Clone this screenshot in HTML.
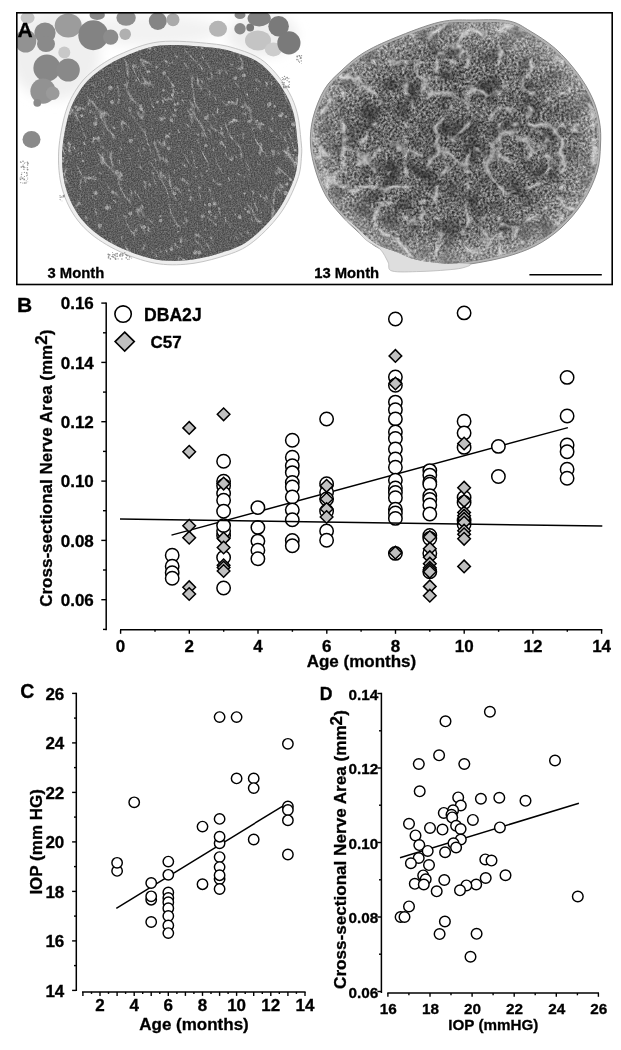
<!DOCTYPE html>
<html><head><meta charset="utf-8"><title>Figure</title>
<style>html,body{margin:0;padding:0;background:#fff;width:621px;height:1050px;overflow:hidden}svg{display:block;filter:grayscale(1)}</style>
</head><body>
<svg width="621" height="1050" viewBox="0 0 621 1050" font-family='"Liberation Sans", sans-serif' font-weight="bold">
<style>text{stroke:#000;stroke-width:0.3px;paint-order:stroke}</style>
<defs>
<filter id="texL" filterUnits="userSpaceOnUse" x="55" y="35" width="250" height="232" color-interpolation-filters="sRGB">
  <feTurbulence type="fractalNoise" baseFrequency="0.7" numOctaves="2" seed="4" result="n"/>
  <feColorMatrix in="n" type="matrix" values="1.8 0 0 0 -0.5  1.8 0 0 0 -0.5  1.8 0 0 0 -0.5  0 0 0 0 1" result="g"/>
  <feComposite in="g" in2="SourceGraphic" operator="in"/>
</filter>
<filter id="strL" filterUnits="userSpaceOnUse" x="-100" y="-100" width="500" height="500" color-interpolation-filters="sRGB">
  <feTurbulence type="turbulence" baseFrequency="0.09 0.03" numOctaves="2" seed="11" result="n"/>
  <feColorMatrix in="n" type="matrix" values="0 0 0 0 0.8  0 0 0 0 0.8  0 0 0 0 0.8  -9.5 0 0 0 0.9" result="g"/>
  <feComposite in="g" in2="SourceGraphic" operator="in"/>
</filter>
<filter id="texR" filterUnits="userSpaceOnUse" x="300" y="12" width="312" height="262" color-interpolation-filters="sRGB">
  <feTurbulence type="fractalNoise" baseFrequency="0.42" numOctaves="2" seed="9" result="n"/>
  <feColorMatrix in="n" type="matrix" values="1.7 0 0 0 -0.4  1.7 0 0 0 -0.4  1.7 0 0 0 -0.4  0 0 0 0 1" result="g"/>
  <feComposite in="g" in2="SourceGraphic" operator="in"/>
</filter>
<filter id="sepR" filterUnits="userSpaceOnUse" x="300" y="12" width="312" height="262" color-interpolation-filters="sRGB">
  <feTurbulence type="turbulence" baseFrequency="0.032" numOctaves="3" seed="5" result="n"/>
  <feColorMatrix in="n" type="matrix" values="0 0 0 0 0.8  0 0 0 0 0.8  0 0 0 0 0.8  -5.5 0 0 0 1.12" result="g"/>
  <feComposite in="g" in2="SourceGraphic" operator="in"/>
</filter>
<filter id="blotR" filterUnits="userSpaceOnUse" x="300" y="12" width="312" height="262" color-interpolation-filters="sRGB">
  <feTurbulence type="fractalNoise" baseFrequency="0.05" numOctaves="2" seed="21" result="n"/>
  <feColorMatrix in="n" type="matrix" values="0 0 0 0 0.15  0 0 0 0 0.15  0 0 0 0 0.15  3 0 0 0 -1.35" result="g"/>
  <feComposite in="g" in2="SourceGraphic" operator="in"/>
</filter>
<filter id="blur1" x="-20%" y="-20%" width="140%" height="140%"><feGaussianBlur stdDeviation="1.2"/></filter>
<filter id="blur04"><feGaussianBlur stdDeviation="0.45"/></filter>
<filter id="blur05"><feGaussianBlur stdDeviation="0.7"/></filter>
<filter id="blur3" x="-30%" y="-30%" width="160%" height="160%"><feGaussianBlur stdDeviation="6"/></filter>
<radialGradient id="rgR" cx="455" cy="142" r="150" gradientUnits="userSpaceOnUse" gradientTransform="translate(455 142) scale(1 0.82) translate(-455 -142)">
<stop offset="0" stop-color="#000" stop-opacity="0.12"/><stop offset="0.6" stop-color="#000" stop-opacity="0.04"/><stop offset="0.85" stop-color="#fff" stop-opacity="0.12"/><stop offset="1" stop-color="#fff" stop-opacity="0.3"/></radialGradient>
<clipPath id="clipA"><rect x="17" y="13" width="595" height="271"/></clipPath></defs>
<rect width="621" height="1050" fill="#fff"/>
<g id="panelA"><rect x="17" y="13" width="595" height="271" fill="#ffffff"/><g clip-path="url(#clipA)" filter="url(#blur3)"><ellipse cx="55" cy="55" rx="45" ry="45" fill="#efefef"/><ellipse cx="150" cy="30" rx="70" ry="16" fill="#f2f2f2"/><ellipse cx="262" cy="35" rx="35" ry="22" fill="#eeeeee"/></g><g clip-path="url(#clipA)"><ellipse cx="27.6" cy="17.8" rx="7" ry="6" fill="#c4c4c4" filter="url(#blur05)"/><ellipse cx="25.7" cy="41" rx="10.6" ry="11.5" fill="#929292" filter="url(#blur05)"/><ellipse cx="45" cy="33" rx="10.6" ry="10.5" fill="#8a8a8a" filter="url(#blur05)"/><ellipse cx="46" cy="44" rx="9" ry="8" fill="#8a8a8a" filter="url(#blur05)"/><ellipse cx="68.2" cy="25.5" rx="13.5" ry="12" fill="#9c9c9c" filter="url(#blur05)"/><ellipse cx="93.3" cy="35.2" rx="15" ry="15" fill="#838383" filter="url(#blur05)"/><ellipse cx="110.7" cy="37.1" rx="7.7" ry="7.7" fill="#8c8c8c" filter="url(#blur05)"/><ellipse cx="125.2" cy="34.2" rx="5.8" ry="5.8" fill="#b0b0b0" filter="url(#blur05)"/><ellipse cx="126.1" cy="17.8" rx="9.7" ry="8" fill="#8e8e8e" filter="url(#blur05)"/><ellipse cx="97.2" cy="14.9" rx="7.7" ry="5" fill="#8a8a8a" filter="url(#blur05)"/><ellipse cx="46.9" cy="68" rx="13.5" ry="13.5" fill="#878787" filter="url(#blur05)"/><ellipse cx="68.2" cy="70" rx="11.6" ry="11.6" fill="#898989" filter="url(#blur05)"/><ellipse cx="43" cy="91.2" rx="12.6" ry="12.6" fill="#929292" filter="url(#blur05)"/><ellipse cx="52.7" cy="93.2" rx="6.8" ry="6.8" fill="#9a9a9a" filter="url(#blur05)"/><ellipse cx="37.3" cy="102.8" rx="3.9" ry="3.9" fill="#8a8a8a" filter="url(#blur05)"/><ellipse cx="64.3" cy="52.6" rx="6" ry="6" fill="#c8c8c8" filter="url(#blur05)"/><ellipse cx="31.5" cy="139.6" rx="9" ry="8.5" fill="#8a8a8a" filter="url(#blur05)"/><ellipse cx="157.8" cy="21" rx="9" ry="9" fill="#858585" filter="url(#blur05)"/><ellipse cx="173" cy="19.7" rx="6.5" ry="6.5" fill="#aaaaaa" filter="url(#blur05)"/><ellipse cx="218" cy="28.8" rx="9" ry="8" fill="#b5b5b5" filter="url(#blur05)"/><ellipse cx="240" cy="28.8" rx="5.7" ry="5.7" fill="#888888" filter="url(#blur05)"/><ellipse cx="240" cy="15" rx="5.5" ry="4" fill="#888888" filter="url(#blur05)"/><ellipse cx="250.2" cy="27.5" rx="3.9" ry="3.9" fill="#777777" filter="url(#blur05)"/><ellipse cx="258" cy="40.4" rx="13" ry="10" fill="#c4c4c4" filter="url(#blur05)"/><ellipse cx="273.4" cy="49.4" rx="8.5" ry="7" fill="#cccccc" filter="url(#blur05)"/><ellipse cx="259.2" cy="18.4" rx="11.6" ry="8" fill="#808080" filter="url(#blur05)"/><ellipse cx="278.6" cy="26.2" rx="10.3" ry="10.3" fill="#7a7a7a" filter="url(#blur05)"/><ellipse cx="288.9" cy="42.9" rx="11.6" ry="11.6" fill="#7a7a7a" filter="url(#blur05)"/></g><path d="M159.4 41.8C174.9 40.0 198.7 42.5 211.9 43.8C225.1 45.1 230.6 47.0 238.7 49.5C246.8 52.0 254.2 54.9 260.3 58.9C266.5 62.8 271.0 67.7 275.8 73.3C280.6 78.9 285.6 85.8 289.2 92.5C292.8 99.2 295.4 105.7 297.4 113.7C299.4 121.7 300.3 133.5 301.0 140.6C301.7 147.7 302.1 149.6 301.5 156.1C300.9 162.7 301.0 170.3 297.4 179.9C293.8 189.6 287.8 203.4 279.9 214.1C272.0 224.8 260.0 237.0 250.0 244.1C240.1 251.3 231.0 253.7 220.2 257.1C209.4 260.4 196.8 263.4 185.2 264.3C173.5 265.2 162.5 265.1 150.1 262.2C137.8 259.4 122.5 253.5 111.0 247.2C99.5 240.9 89.0 233.4 81.1 224.4C73.2 215.5 67.4 204.8 63.6 193.4C59.8 182.0 58.3 169.1 58.5 156.1C58.6 143.2 61.7 126.8 64.6 115.8C67.6 104.7 71.3 97.3 76.0 89.9C80.6 82.5 85.2 77.1 92.5 71.3C99.7 65.4 108.1 59.6 119.2 54.7C130.4 49.8 143.9 43.6 159.4 41.8Z" fill="#eeeeee" stroke="#c4c4c4" stroke-width="1"/><path d="M160.0 45.5C175.0 43.8 198.2 46.2 211.0 47.5C223.8 48.8 229.2 50.6 237.0 53.0C244.8 55.4 252.0 58.2 258.0 62.0C264.0 65.8 268.3 70.6 273.0 76.0C277.7 81.4 282.5 88.0 286.0 94.5C289.5 101.0 292.1 107.2 294.0 115.0C295.9 122.8 296.8 134.2 297.5 141.0C298.2 147.8 298.6 149.7 298.0 156.0C297.4 162.3 297.5 169.7 294.0 179.0C290.5 188.3 284.7 201.7 277.0 212.0C269.3 222.3 257.7 234.1 248.0 241.0C238.3 247.9 229.5 250.2 219.0 253.5C208.5 256.8 196.3 259.7 185.0 260.5C173.7 261.3 163.0 261.2 151.0 258.5C139.0 255.8 124.2 250.1 113.0 244.0C101.8 237.9 91.7 230.7 84.0 222.0C76.3 213.3 70.7 203.0 67.0 192.0C63.3 181.0 61.8 168.5 62.0 156.0C62.2 143.5 65.2 127.7 68.0 117.0C70.8 106.3 74.5 99.2 79.0 92.0C83.5 84.8 88.0 79.7 95.0 74.0C102.0 68.3 110.2 62.8 121.0 58.0C131.8 53.2 145.0 47.2 160.0 45.5Z" fill="#5c5c5e"/><clipPath id="clipLN"><path d="M160.0 45.5C175.0 43.8 198.2 46.2 211.0 47.5C223.8 48.8 229.2 50.6 237.0 53.0C244.8 55.4 252.0 58.2 258.0 62.0C264.0 65.8 268.3 70.6 273.0 76.0C277.7 81.4 282.5 88.0 286.0 94.5C289.5 101.0 292.1 107.2 294.0 115.0C295.9 122.8 296.8 134.2 297.5 141.0C298.2 147.8 298.6 149.7 298.0 156.0C297.4 162.3 297.5 169.7 294.0 179.0C290.5 188.3 284.7 201.7 277.0 212.0C269.3 222.3 257.7 234.1 248.0 241.0C238.3 247.9 229.5 250.2 219.0 253.5C208.5 256.8 196.3 259.7 185.0 260.5C173.7 261.3 163.0 261.2 151.0 258.5C139.0 255.8 124.2 250.1 113.0 244.0C101.8 237.9 91.7 230.7 84.0 222.0C76.3 213.3 70.7 203.0 67.0 192.0C63.3 181.0 61.8 168.5 62.0 156.0C62.2 143.5 65.2 127.7 68.0 117.0C70.8 106.3 74.5 99.2 79.0 92.0C83.5 84.8 88.0 79.7 95.0 74.0C102.0 68.3 110.2 62.8 121.0 58.0C131.8 53.2 145.0 47.2 160.0 45.5Z"/></clipPath><g clip-path="url(#clipLN)"><g transform="rotate(-28 180 152)"><rect x="20" y="0" width="320" height="310" fill="#000" filter="url(#strL)"/></g></g><g clip-path="url(#clipLN)"><g filter="url(#blur05)" opacity="0.85"><circle cx="209.5" cy="204.7" r="1.9" fill="#b8b8b8"/><circle cx="171.7" cy="249.4" r="1.7" fill="#b8b8b8"/><circle cx="172.6" cy="94.7" r="1.6" fill="#b8b8b8"/><circle cx="112.0" cy="102.0" r="2.1" fill="#b8b8b8"/><circle cx="243.8" cy="75.4" r="1.9" fill="#b8b8b8"/><circle cx="93.3" cy="177.1" r="1.0" fill="#b8b8b8"/><circle cx="110.3" cy="87.8" r="2.2" fill="#b8b8b8"/><circle cx="269.4" cy="104.2" r="2.1" fill="#b8b8b8"/><circle cx="189.4" cy="190.5" r="1.1" fill="#b8b8b8"/><circle cx="285.8" cy="193.3" r="2.2" fill="#b8b8b8"/><circle cx="274.5" cy="106.3" r="1.3" fill="#b8b8b8"/><circle cx="75.6" cy="106.9" r="1.6" fill="#b8b8b8"/><circle cx="141.1" cy="108.8" r="1.9" fill="#b8b8b8"/><circle cx="175.4" cy="110.1" r="1.5" fill="#b8b8b8"/><circle cx="240.0" cy="227.6" r="0.8" fill="#b8b8b8"/><circle cx="249.1" cy="121.3" r="1.6" fill="#b8b8b8"/><circle cx="107.2" cy="207.8" r="2.1" fill="#b8b8b8"/><circle cx="286.1" cy="116.5" r="1.3" fill="#b8b8b8"/><circle cx="185.9" cy="212.2" r="1.0" fill="#b8b8b8"/><circle cx="239.6" cy="217.0" r="2.0" fill="#b8b8b8"/><circle cx="81.9" cy="115.6" r="1.7" fill="#b8b8b8"/><circle cx="280.3" cy="115.5" r="2.1" fill="#b8b8b8"/><circle cx="190.8" cy="109.4" r="1.2" fill="#b8b8b8"/><circle cx="95.7" cy="193.0" r="2.2" fill="#b8b8b8"/><circle cx="296.8" cy="158.4" r="1.4" fill="#b8b8b8"/><circle cx="117.0" cy="171.9" r="2.0" fill="#b8b8b8"/><circle cx="169.4" cy="133.6" r="0.9" fill="#b8b8b8"/><circle cx="178.5" cy="226.1" r="1.0" fill="#b8b8b8"/><circle cx="211.3" cy="214.9" r="0.9" fill="#b8b8b8"/><circle cx="164.3" cy="73.1" r="2.0" fill="#b8b8b8"/><circle cx="130.8" cy="140.6" r="2.2" fill="#b8b8b8"/><circle cx="168.8" cy="148.4" r="1.8" fill="#b8b8b8"/><circle cx="175.0" cy="104.6" r="1.4" fill="#b8b8b8"/><circle cx="95.2" cy="123.7" r="2.2" fill="#b8b8b8"/><circle cx="290.4" cy="179.2" r="1.5" fill="#b8b8b8"/><circle cx="141.2" cy="59.8" r="1.2" fill="#b8b8b8"/><circle cx="247.7" cy="232.6" r="1.3" fill="#b8b8b8"/><circle cx="248.6" cy="212.0" r="1.8" fill="#b8b8b8"/><circle cx="219.4" cy="208.6" r="1.3" fill="#b8b8b8"/><circle cx="229.1" cy="102.3" r="1.5" fill="#b8b8b8"/><circle cx="244.7" cy="193.4" r="1.2" fill="#b8b8b8"/><circle cx="286.9" cy="184.2" r="1.6" fill="#b8b8b8"/><circle cx="62.8" cy="161.4" r="1.2" fill="#b8b8b8"/><circle cx="221.2" cy="142.8" r="1.9" fill="#b8b8b8"/><circle cx="215.4" cy="217.1" r="1.3" fill="#b8b8b8"/><circle cx="214.6" cy="203.8" r="2.0" fill="#b8b8b8"/><circle cx="144.0" cy="227.1" r="2.0" fill="#b8b8b8"/><circle cx="289.6" cy="155.0" r="1.5" fill="#b8b8b8"/><circle cx="99.9" cy="225.7" r="2.1" fill="#b8b8b8"/><circle cx="174.5" cy="193.5" r="1.8" fill="#b8b8b8"/><circle cx="235.3" cy="78.1" r="1.9" fill="#b8b8b8"/><circle cx="199.4" cy="187.8" r="1.4" fill="#b8b8b8"/><circle cx="209.7" cy="212.0" r="1.7" fill="#b8b8b8"/><circle cx="98.4" cy="137.9" r="1.7" fill="#b8b8b8"/><circle cx="112.6" cy="192.3" r="1.7" fill="#b8b8b8"/><circle cx="70.0" cy="144.7" r="1.1" fill="#b8b8b8"/><circle cx="136.2" cy="80.3" r="1.1" fill="#b8b8b8"/><circle cx="68.6" cy="143.3" r="1.3" fill="#b8b8b8"/><circle cx="206.8" cy="171.0" r="1.1" fill="#b8b8b8"/><circle cx="157.3" cy="101.8" r="1.4" fill="#b8b8b8"/><circle cx="149.7" cy="48.0" r="1.7" fill="#b8b8b8"/><circle cx="82.8" cy="161.0" r="1.3" fill="#b8b8b8"/><circle cx="199.4" cy="252.7" r="1.9" fill="#b8b8b8"/><circle cx="160.6" cy="220.5" r="1.7" fill="#b8b8b8"/><circle cx="148.7" cy="71.5" r="1.6" fill="#b8b8b8"/><circle cx="195.3" cy="252.5" r="2.2" fill="#b8b8b8"/><circle cx="206.1" cy="117.9" r="2.1" fill="#b8b8b8"/><circle cx="195.8" cy="176.6" r="1.0" fill="#b8b8b8"/><circle cx="211.1" cy="237.9" r="1.3" fill="#b8b8b8"/><circle cx="163.6" cy="90.2" r="1.2" fill="#b8b8b8"/><circle cx="293.4" cy="124.3" r="2.1" fill="#b8b8b8"/><circle cx="279.3" cy="172.3" r="1.2" fill="#b8b8b8"/><circle cx="295.4" cy="150.2" r="1.4" fill="#b8b8b8"/><circle cx="178.0" cy="103.6" r="1.5" fill="#b8b8b8"/><circle cx="89.3" cy="178.0" r="1.4" fill="#b8b8b8"/><circle cx="130.3" cy="213.5" r="2.0" fill="#b8b8b8"/><circle cx="63.2" cy="158.2" r="1.2" fill="#b8b8b8"/><circle cx="119.0" cy="99.4" r="1.0" fill="#b8b8b8"/><circle cx="205.9" cy="145.4" r="1.7" fill="#b8b8b8"/><circle cx="204.9" cy="205.1" r="1.0" fill="#b8b8b8"/><circle cx="242.5" cy="106.8" r="1.5" fill="#b8b8b8"/><circle cx="140.7" cy="105.9" r="1.5" fill="#b8b8b8"/><circle cx="171.4" cy="120.2" r="1.8" fill="#b8b8b8"/><circle cx="201.8" cy="48.1" r="1.2" fill="#b8b8b8"/></g></g><path d="M160.0 45.5C175.0 43.8 198.2 46.2 211.0 47.5C223.8 48.8 229.2 50.6 237.0 53.0C244.8 55.4 252.0 58.2 258.0 62.0C264.0 65.8 268.3 70.6 273.0 76.0C277.7 81.4 282.5 88.0 286.0 94.5C289.5 101.0 292.1 107.2 294.0 115.0C295.9 122.8 296.8 134.2 297.5 141.0C298.2 147.8 298.6 149.7 298.0 156.0C297.4 162.3 297.5 169.7 294.0 179.0C290.5 188.3 284.7 201.7 277.0 212.0C269.3 222.3 257.7 234.1 248.0 241.0C238.3 247.9 229.5 250.2 219.0 253.5C208.5 256.8 196.3 259.7 185.0 260.5C173.7 261.3 163.0 261.2 151.0 258.5C139.0 255.8 124.2 250.1 113.0 244.0C101.8 237.9 91.7 230.7 84.0 222.0C76.3 213.3 70.7 203.0 67.0 192.0C63.3 181.0 61.8 168.5 62.0 156.0C62.2 143.5 65.2 127.7 68.0 117.0C70.8 106.3 74.5 99.2 79.0 92.0C83.5 84.8 88.0 79.7 95.0 74.0C102.0 68.3 110.2 62.8 121.0 58.0C131.8 53.2 145.0 47.2 160.0 45.5Z" fill="#000" filter="url(#texL)" opacity="0.22"/><path d="M440.0 22.0C453.3 19.0 463.5 20.2 475.0 20.0C486.5 19.8 499.8 19.2 509.0 21.0C518.2 22.8 522.2 26.4 530.0 31.0C537.8 35.6 547.6 41.7 555.5 48.7C563.4 55.7 571.4 65.0 577.5 73.2C583.6 81.4 588.5 89.6 592.2 97.7C595.9 105.8 598.1 114.1 599.5 122.0C600.9 129.9 600.9 136.7 600.5 145.0C600.1 153.3 599.9 162.5 597.0 172.0C594.1 181.5 589.0 192.7 583.0 202.0C577.0 211.3 569.0 220.7 561.0 228.0C553.0 235.3 544.3 241.2 535.0 246.0C525.7 250.8 515.8 254.0 505.0 257.0C494.2 260.0 480.0 262.5 470.0 264.0C460.0 265.5 454.2 266.3 445.0 266.0C435.8 265.7 423.3 264.0 415.0 262.0C406.7 260.0 401.7 256.7 395.0 254.0C388.3 251.3 381.7 250.2 375.0 246.0C368.3 241.8 360.8 234.3 355.0 229.0C349.2 223.7 344.8 219.5 340.0 214.0C335.2 208.5 330.0 203.0 326.0 196.0C322.0 189.0 318.6 180.5 316.0 172.0C313.4 163.5 311.0 154.0 310.5 145.0C310.0 136.0 310.7 127.3 313.0 118.0C315.3 108.7 319.8 97.1 324.5 89.3C329.2 81.5 334.6 77.0 341.0 71.0C347.4 65.0 354.0 58.7 363.0 53.2C372.0 47.7 382.2 43.0 395.0 37.8C407.8 32.6 426.7 25.0 440.0 22.0Z" fill="#b4b4b4" stroke="#8a8a8a" stroke-width="1"/><path d="M345.0 219.0C344.8 219.5 352.5 225.5 356.0 229.0C359.5 232.5 362.0 236.7 366.0 240.0C370.0 243.3 376.3 245.3 380.0 249.0C383.7 252.7 386.0 258.3 388.0 262.0C390.0 265.7 386.7 269.4 392.0 271.0C397.3 272.6 411.0 271.7 420.0 271.5C429.0 271.3 439.0 270.6 446.0 270.0C453.0 269.4 458.0 269.0 462.0 268.0C466.0 267.0 472.8 265.0 470.0 264.0C467.2 263.0 452.5 263.0 445.0 262.0C437.5 261.0 430.5 259.2 425.0 258.0C419.5 256.8 416.2 256.0 412.0 255.0C407.8 254.0 404.5 253.8 400.0 252.0C395.5 250.2 390.0 246.7 385.0 244.0C380.0 241.3 374.7 239.0 370.0 236.0C365.3 233.0 361.2 228.8 357.0 226.0C352.8 223.2 345.2 218.5 345.0 219.0Z" fill="#dedede" stroke="#b8b8b8" stroke-width="0.8"/><path d="M440.2 24.4C453.4 21.5 463.4 22.6 474.7 22.4C486.0 22.3 499.2 21.6 508.2 23.4C517.2 25.2 521.2 28.7 528.9 33.2C536.5 37.7 546.2 43.7 554.0 50.6C561.8 57.5 569.6 66.6 575.7 74.6C581.7 82.6 586.5 90.6 590.1 98.6C593.8 106.6 596.0 114.7 597.3 122.4C598.7 130.1 598.7 136.8 598.3 144.9C597.9 153.1 597.7 162.1 594.9 171.4C592.0 180.7 587.0 191.7 581.1 200.8C575.2 209.9 567.3 219.1 559.4 226.3C551.5 233.5 543.0 239.2 533.8 243.9C524.6 248.7 514.9 251.8 504.2 254.7C493.6 257.6 479.6 260.1 469.8 261.6C459.9 263.0 454.2 263.8 445.1 263.5C436.1 263.2 423.8 261.6 415.6 259.6C407.4 257.6 402.5 254.4 395.9 251.8C389.3 249.1 382.8 248.0 376.2 243.9C369.6 239.8 362.2 232.5 356.5 227.3C350.8 222.0 346.5 217.9 341.7 212.6C337.0 207.2 331.9 201.8 327.9 194.9C324.0 188.1 320.6 179.7 318.1 171.4C315.5 163.1 313.2 153.8 312.7 144.9C312.2 136.1 312.8 127.6 315.1 118.5C317.4 109.4 321.9 98.0 326.5 90.4C331.1 82.7 336.4 78.3 342.7 72.4C349.0 66.5 355.5 60.4 364.4 55.0C373.2 49.6 383.3 45.0 395.9 39.9C408.5 34.8 427.1 27.3 440.2 24.4Z" fill="#767676"/><path d="M440.2 24.4C453.4 21.5 463.4 22.6 474.7 22.4C486.0 22.3 499.2 21.6 508.2 23.4C517.2 25.2 521.2 28.7 528.9 33.2C536.5 37.7 546.2 43.7 554.0 50.6C561.8 57.5 569.6 66.6 575.7 74.6C581.7 82.6 586.5 90.6 590.1 98.6C593.8 106.6 596.0 114.7 597.3 122.4C598.7 130.1 598.7 136.8 598.3 144.9C597.9 153.1 597.7 162.1 594.9 171.4C592.0 180.7 587.0 191.7 581.1 200.8C575.2 209.9 567.3 219.1 559.4 226.3C551.5 233.5 543.0 239.2 533.8 243.9C524.6 248.7 514.9 251.8 504.2 254.7C493.6 257.6 479.6 260.1 469.8 261.6C459.9 263.0 454.2 263.8 445.1 263.5C436.1 263.2 423.8 261.6 415.6 259.6C407.4 257.6 402.5 254.4 395.9 251.8C389.3 249.1 382.8 248.0 376.2 243.9C369.6 239.8 362.2 232.5 356.5 227.3C350.8 222.0 346.5 217.9 341.7 212.6C337.0 207.2 331.9 201.8 327.9 194.9C324.0 188.1 320.6 179.7 318.1 171.4C315.5 163.1 313.2 153.8 312.7 144.9C312.2 136.1 312.8 127.6 315.1 118.5C317.4 109.4 321.9 98.0 326.5 90.4C331.1 82.7 336.4 78.3 342.7 72.4C349.0 66.5 355.5 60.4 364.4 55.0C373.2 49.6 383.3 45.0 395.9 39.9C408.5 34.8 427.1 27.3 440.2 24.4Z" fill="#000" filter="url(#texR)" opacity="0.6"/><path d="M440.2 24.4C453.4 21.5 463.4 22.6 474.7 22.4C486.0 22.3 499.2 21.6 508.2 23.4C517.2 25.2 521.2 28.7 528.9 33.2C536.5 37.7 546.2 43.7 554.0 50.6C561.8 57.5 569.6 66.6 575.7 74.6C581.7 82.6 586.5 90.6 590.1 98.6C593.8 106.6 596.0 114.7 597.3 122.4C598.7 130.1 598.7 136.8 598.3 144.9C597.9 153.1 597.7 162.1 594.9 171.4C592.0 180.7 587.0 191.7 581.1 200.8C575.2 209.9 567.3 219.1 559.4 226.3C551.5 233.5 543.0 239.2 533.8 243.9C524.6 248.7 514.9 251.8 504.2 254.7C493.6 257.6 479.6 260.1 469.8 261.6C459.9 263.0 454.2 263.8 445.1 263.5C436.1 263.2 423.8 261.6 415.6 259.6C407.4 257.6 402.5 254.4 395.9 251.8C389.3 249.1 382.8 248.0 376.2 243.9C369.6 239.8 362.2 232.5 356.5 227.3C350.8 222.0 346.5 217.9 341.7 212.6C337.0 207.2 331.9 201.8 327.9 194.9C324.0 188.1 320.6 179.7 318.1 171.4C315.5 163.1 313.2 153.8 312.7 144.9C312.2 136.1 312.8 127.6 315.1 118.5C317.4 109.4 321.9 98.0 326.5 90.4C331.1 82.7 336.4 78.3 342.7 72.4C349.0 66.5 355.5 60.4 364.4 55.0C373.2 49.6 383.3 45.0 395.9 39.9C408.5 34.8 427.1 27.3 440.2 24.4Z" fill="#000" filter="url(#blotR)" opacity="0.6"/><path d="M440.2 24.4C453.4 21.5 463.4 22.6 474.7 22.4C486.0 22.3 499.2 21.6 508.2 23.4C517.2 25.2 521.2 28.7 528.9 33.2C536.5 37.7 546.2 43.7 554.0 50.6C561.8 57.5 569.6 66.6 575.7 74.6C581.7 82.6 586.5 90.6 590.1 98.6C593.8 106.6 596.0 114.7 597.3 122.4C598.7 130.1 598.7 136.8 598.3 144.9C597.9 153.1 597.7 162.1 594.9 171.4C592.0 180.7 587.0 191.7 581.1 200.8C575.2 209.9 567.3 219.1 559.4 226.3C551.5 233.5 543.0 239.2 533.8 243.9C524.6 248.7 514.9 251.8 504.2 254.7C493.6 257.6 479.6 260.1 469.8 261.6C459.9 263.0 454.2 263.8 445.1 263.5C436.1 263.2 423.8 261.6 415.6 259.6C407.4 257.6 402.5 254.4 395.9 251.8C389.3 249.1 382.8 248.0 376.2 243.9C369.6 239.8 362.2 232.5 356.5 227.3C350.8 222.0 346.5 217.9 341.7 212.6C337.0 207.2 331.9 201.8 327.9 194.9C324.0 188.1 320.6 179.7 318.1 171.4C315.5 163.1 313.2 153.8 312.7 144.9C312.2 136.1 312.8 127.6 315.1 118.5C317.4 109.4 321.9 98.0 326.5 90.4C331.1 82.7 336.4 78.3 342.7 72.4C349.0 66.5 355.5 60.4 364.4 55.0C373.2 49.6 383.3 45.0 395.9 39.9C408.5 34.8 427.1 27.3 440.2 24.4Z" fill="#000" filter="url(#sepR)"/><path d="M440.2 24.4C453.4 21.5 463.4 22.6 474.7 22.4C486.0 22.3 499.2 21.6 508.2 23.4C517.2 25.2 521.2 28.7 528.9 33.2C536.5 37.7 546.2 43.7 554.0 50.6C561.8 57.5 569.6 66.6 575.7 74.6C581.7 82.6 586.5 90.6 590.1 98.6C593.8 106.6 596.0 114.7 597.3 122.4C598.7 130.1 598.7 136.8 598.3 144.9C597.9 153.1 597.7 162.1 594.9 171.4C592.0 180.7 587.0 191.7 581.1 200.8C575.2 209.9 567.3 219.1 559.4 226.3C551.5 233.5 543.0 239.2 533.8 243.9C524.6 248.7 514.9 251.8 504.2 254.7C493.6 257.6 479.6 260.1 469.8 261.6C459.9 263.0 454.2 263.8 445.1 263.5C436.1 263.2 423.8 261.6 415.6 259.6C407.4 257.6 402.5 254.4 395.9 251.8C389.3 249.1 382.8 248.0 376.2 243.9C369.6 239.8 362.2 232.5 356.5 227.3C350.8 222.0 346.5 217.9 341.7 212.6C337.0 207.2 331.9 201.8 327.9 194.9C324.0 188.1 320.6 179.7 318.1 171.4C315.5 163.1 313.2 153.8 312.7 144.9C312.2 136.1 312.8 127.6 315.1 118.5C317.4 109.4 321.9 98.0 326.5 90.4C331.1 82.7 336.4 78.3 342.7 72.4C349.0 66.5 355.5 60.4 364.4 55.0C373.2 49.6 383.3 45.0 395.9 39.9C408.5 34.8 427.1 27.3 440.2 24.4Z" fill="url(#rgR)"/><g opacity="0.8"><circle cx="24.2" cy="179.4" r="0.9" fill="#777"/><circle cx="22.3" cy="178.4" r="0.8" fill="#777"/><circle cx="25.3" cy="162.6" r="0.4" fill="#777"/><circle cx="23.1" cy="177.9" r="0.5" fill="#777"/><circle cx="24.0" cy="167.6" r="0.8" fill="#777"/><circle cx="27.6" cy="169.6" r="0.9" fill="#777"/><circle cx="20.5" cy="179.5" r="0.8" fill="#777"/><circle cx="21.2" cy="176.9" r="0.7" fill="#777"/><circle cx="27.6" cy="165.0" r="0.7" fill="#777"/><circle cx="27.1" cy="175.3" r="0.6" fill="#777"/><circle cx="20.7" cy="182.6" r="0.6" fill="#777"/><circle cx="28.0" cy="163.4" r="0.8" fill="#777"/><circle cx="26.5" cy="182.1" r="0.4" fill="#777"/><circle cx="23.0" cy="161.2" r="0.8" fill="#777"/><circle cx="22.8" cy="183.0" r="0.6" fill="#777"/><circle cx="26.2" cy="180.8" r="0.5" fill="#777"/><circle cx="24.5" cy="183.0" r="0.7" fill="#777"/><circle cx="22.9" cy="166.4" r="0.8" fill="#777"/><circle cx="21.5" cy="174.5" r="0.7" fill="#777"/><circle cx="24.4" cy="163.1" r="0.7" fill="#777"/><circle cx="27.3" cy="167.7" r="0.6" fill="#777"/><circle cx="27.3" cy="173.9" r="0.5" fill="#777"/><circle cx="20.1" cy="178.1" r="0.6" fill="#777"/><circle cx="23.7" cy="166.5" r="0.7" fill="#777"/><circle cx="25.8" cy="167.4" r="0.4" fill="#777"/><circle cx="27.9" cy="181.8" r="0.4" fill="#777"/><circle cx="24.5" cy="176.5" r="0.6" fill="#777"/><circle cx="25.9" cy="183.0" r="0.7" fill="#777"/><circle cx="23.1" cy="164.7" r="0.5" fill="#777"/><circle cx="21.2" cy="162.6" r="0.5" fill="#777"/><circle cx="26.7" cy="172.9" r="0.8" fill="#777"/><circle cx="27.4" cy="179.5" r="0.4" fill="#777"/><circle cx="27.4" cy="162.2" r="0.8" fill="#777"/><circle cx="26.7" cy="175.8" r="0.6" fill="#777"/><circle cx="20.6" cy="162.0" r="0.7" fill="#777"/><circle cx="21.9" cy="172.8" r="0.5" fill="#777"/><circle cx="21.3" cy="167.1" r="0.8" fill="#777"/><circle cx="23.9" cy="169.4" r="0.6" fill="#777"/><circle cx="24.4" cy="172.4" r="0.6" fill="#777"/><circle cx="27.7" cy="178.0" r="0.5" fill="#777"/><circle cx="115.6" cy="253.8" r="0.6" fill="#777"/><circle cx="108.7" cy="257.7" r="0.7" fill="#777"/><circle cx="118.1" cy="258.8" r="0.6" fill="#777"/><circle cx="121.9" cy="259.0" r="0.7" fill="#777"/><circle cx="122.7" cy="255.1" r="0.9" fill="#777"/><circle cx="126.1" cy="254.6" r="0.6" fill="#777"/><circle cx="122.2" cy="256.1" r="0.7" fill="#777"/><circle cx="112.6" cy="256.5" r="0.8" fill="#777"/><circle cx="126.4" cy="255.6" r="0.6" fill="#777"/><circle cx="120.1" cy="256.3" r="0.6" fill="#777"/><circle cx="108.3" cy="254.3" r="0.9" fill="#777"/><circle cx="127.8" cy="255.8" r="0.8" fill="#777"/><circle cx="113.1" cy="254.4" r="0.7" fill="#777"/><circle cx="124.8" cy="252.7" r="0.6" fill="#777"/><circle cx="129.7" cy="256.8" r="0.9" fill="#777"/><circle cx="110.4" cy="258.9" r="0.8" fill="#777"/><circle cx="108.6" cy="256.3" r="0.8" fill="#777"/><circle cx="113.3" cy="257.0" r="0.8" fill="#777"/><circle cx="127.1" cy="255.5" r="0.4" fill="#777"/><circle cx="120.9" cy="253.8" r="0.7" fill="#777"/><circle cx="114.5" cy="254.9" r="0.7" fill="#777"/><circle cx="127.7" cy="259.3" r="0.6" fill="#777"/><circle cx="108.2" cy="257.8" r="0.6" fill="#777"/><circle cx="126.2" cy="258.3" r="0.4" fill="#777"/><circle cx="125.5" cy="254.5" r="0.6" fill="#777"/><circle cx="116.0" cy="256.3" r="0.5" fill="#777"/><circle cx="119.9" cy="254.5" r="0.5" fill="#777"/><circle cx="114.0" cy="257.3" r="0.6" fill="#777"/><circle cx="112.8" cy="255.1" r="0.5" fill="#777"/><circle cx="131.6" cy="258.0" r="0.5" fill="#777"/><circle cx="115.1" cy="255.6" r="0.7" fill="#777"/><circle cx="117.3" cy="256.2" r="0.8" fill="#777"/><circle cx="111.7" cy="256.4" r="0.5" fill="#777"/><circle cx="120.8" cy="254.7" r="0.8" fill="#777"/><circle cx="129.1" cy="259.2" r="0.6" fill="#777"/><circle cx="122.8" cy="253.7" r="0.8" fill="#777"/><circle cx="126.7" cy="255.5" r="0.6" fill="#777"/><circle cx="126.2" cy="257.8" r="0.8" fill="#777"/><circle cx="114.9" cy="254.2" r="0.5" fill="#777"/><circle cx="112.6" cy="252.5" r="0.5" fill="#777"/><circle cx="119.8" cy="255.5" r="0.8" fill="#777"/><circle cx="117.1" cy="253.7" r="0.9" fill="#777"/><circle cx="109.7" cy="254.9" r="0.8" fill="#777"/><circle cx="115.7" cy="259.2" r="0.8" fill="#777"/><circle cx="115.4" cy="258.5" r="0.9" fill="#777"/><circle cx="286.1" cy="77.7" r="0.5" fill="#777"/><circle cx="288.5" cy="86.7" r="0.7" fill="#777"/><circle cx="288.2" cy="85.5" r="0.5" fill="#777"/><circle cx="283.7" cy="86.4" r="0.8" fill="#777"/><circle cx="285.5" cy="79.2" r="0.4" fill="#777"/><circle cx="285.2" cy="86.9" r="0.5" fill="#777"/><circle cx="284.5" cy="76.4" r="0.7" fill="#777"/><circle cx="282.5" cy="84.1" r="0.6" fill="#777"/><circle cx="285.4" cy="79.1" r="0.6" fill="#777"/><circle cx="289.1" cy="87.3" r="0.8" fill="#777"/><circle cx="283.7" cy="78.5" r="0.6" fill="#777"/><circle cx="289.0" cy="87.3" r="0.5" fill="#777"/><circle cx="287.1" cy="80.6" r="0.6" fill="#777"/><circle cx="283.6" cy="84.7" r="0.8" fill="#777"/><circle cx="289.5" cy="81.8" r="0.6" fill="#777"/><circle cx="287.2" cy="77.6" r="0.8" fill="#777"/><circle cx="288.1" cy="78.7" r="0.6" fill="#777"/><circle cx="285.9" cy="86.2" r="0.7" fill="#777"/><circle cx="283.9" cy="87.4" r="0.9" fill="#777"/><circle cx="288.9" cy="81.9" r="0.6" fill="#777"/><circle cx="285.3" cy="87.7" r="0.6" fill="#777"/><circle cx="289.7" cy="78.2" r="0.4" fill="#777"/><circle cx="285.8" cy="78.4" r="0.5" fill="#777"/><circle cx="282.3" cy="77.5" r="0.6" fill="#777"/><circle cx="282.7" cy="79.6" r="0.7" fill="#777"/><circle cx="284.1" cy="79.7" r="0.6" fill="#777"/><circle cx="284.1" cy="82.8" r="0.8" fill="#777"/><circle cx="282.2" cy="82.4" r="0.7" fill="#777"/><circle cx="289.3" cy="84.4" r="0.5" fill="#777"/><circle cx="286.9" cy="86.8" r="0.9" fill="#777"/><circle cx="63.3" cy="195.6" r="0.6" fill="#777"/><circle cx="61.9" cy="197.0" r="0.8" fill="#777"/><circle cx="62.0" cy="200.9" r="0.4" fill="#777"/><circle cx="63.5" cy="195.7" r="0.7" fill="#777"/><circle cx="60.2" cy="197.3" r="0.7" fill="#777"/><circle cx="64.3" cy="195.2" r="0.6" fill="#777"/><circle cx="60.0" cy="199.5" r="0.5" fill="#777"/><circle cx="60.5" cy="199.9" r="0.4" fill="#777"/><circle cx="63.9" cy="196.6" r="0.9" fill="#777"/><circle cx="60.0" cy="195.6" r="0.6" fill="#777"/><circle cx="298.9" cy="61.4" r="0.6" fill="#777"/><circle cx="299.0" cy="55.2" r="0.4" fill="#777"/><circle cx="297.0" cy="59.6" r="0.8" fill="#777"/><circle cx="300.2" cy="58.2" r="0.6" fill="#777"/><circle cx="301.6" cy="63.7" r="0.4" fill="#777"/><circle cx="300.9" cy="58.0" r="0.9" fill="#777"/><circle cx="301.3" cy="60.9" r="0.7" fill="#777"/><circle cx="301.6" cy="55.7" r="0.6" fill="#777"/><circle cx="297.2" cy="56.5" r="0.9" fill="#777"/><circle cx="300.4" cy="57.0" r="0.5" fill="#777"/><circle cx="299.5" cy="55.9" r="0.8" fill="#777"/><circle cx="299.3" cy="55.6" r="0.7" fill="#777"/><circle cx="299.5" cy="62.6" r="0.5" fill="#777"/><circle cx="298.4" cy="60.0" r="0.6" fill="#777"/></g></g><rect x="16.8" y="12.8" width="595.4" height="271.7" fill="none" stroke="#000" stroke-width="1.6"/><text x="17.6" y="37.4" font-size="21" text-anchor="start" >A</text><text x="47.5" y="278.3" font-size="14.8" text-anchor="start" >3 Month</text><text x="314.2" y="277.9" font-size="14.8" text-anchor="start" >13 Month</text><line x1="529.4" y1="274.7" x2="601.8" y2="274.7" stroke="#000" stroke-width="1.6"/>
<text x="17" y="311.7" font-size="21" text-anchor="start" >B</text><g stroke="#000" fill="none"><line x1="106.2" y1="302.4" x2="106.2" y2="630.3" stroke-width="1.5"/><line x1="103" y1="629.4" x2="106.2" y2="629.4" stroke-width="1.4"/><line x1="101.3" y1="599.7" x2="106.2" y2="599.7" stroke-width="1.4"/><line x1="103" y1="570" x2="106.2" y2="570" stroke-width="1.4"/><line x1="101.3" y1="540.4" x2="106.2" y2="540.4" stroke-width="1.4"/><line x1="103" y1="510.7" x2="106.2" y2="510.7" stroke-width="1.4"/><line x1="101.3" y1="481.1" x2="106.2" y2="481.1" stroke-width="1.4"/><line x1="103" y1="451.4" x2="106.2" y2="451.4" stroke-width="1.4"/><line x1="101.3" y1="421.7" x2="106.2" y2="421.7" stroke-width="1.4"/><line x1="103" y1="392.1" x2="106.2" y2="392.1" stroke-width="1.4"/><line x1="101.3" y1="362.4" x2="106.2" y2="362.4" stroke-width="1.4"/><line x1="103" y1="332.8" x2="106.2" y2="332.8" stroke-width="1.4"/><line x1="101.3" y1="303.1" x2="106.2" y2="303.1" stroke-width="1.4"/><line x1="120" y1="629.7" x2="602.3" y2="629.7" stroke-width="1.5"/><line x1="120.6" y1="629.7" x2="120.6" y2="633.8" stroke-width="1.4"/><line x1="155" y1="629.7" x2="155" y2="631.8" stroke-width="1.4"/><line x1="189.3" y1="629.7" x2="189.3" y2="633.8" stroke-width="1.4"/><line x1="223.7" y1="629.7" x2="223.7" y2="631.8" stroke-width="1.4"/><line x1="258" y1="629.7" x2="258" y2="633.8" stroke-width="1.4"/><line x1="292.4" y1="629.7" x2="292.4" y2="631.8" stroke-width="1.4"/><line x1="326.8" y1="629.7" x2="326.8" y2="633.8" stroke-width="1.4"/><line x1="361.1" y1="629.7" x2="361.1" y2="631.8" stroke-width="1.4"/><line x1="395.5" y1="629.7" x2="395.5" y2="633.8" stroke-width="1.4"/><line x1="429.8" y1="629.7" x2="429.8" y2="631.8" stroke-width="1.4"/><line x1="464.2" y1="629.7" x2="464.2" y2="633.8" stroke-width="1.4"/><line x1="498.6" y1="629.7" x2="498.6" y2="631.8" stroke-width="1.4"/><line x1="532.9" y1="629.7" x2="532.9" y2="633.8" stroke-width="1.4"/><line x1="567.3" y1="629.7" x2="567.3" y2="631.8" stroke-width="1.4"/><line x1="601.6" y1="629.7" x2="601.6" y2="633.8" stroke-width="1.4"/></g><text x="93.8" y="605.9" font-size="17" text-anchor="end" >0.06</text><text x="93.8" y="546.6" font-size="17" text-anchor="end" >0.08</text><text x="93.8" y="487.3" font-size="17" text-anchor="end" >0.10</text><text x="93.8" y="427.9" font-size="17" text-anchor="end" >0.12</text><text x="93.8" y="368.6" font-size="17" text-anchor="end" >0.14</text><text x="93.8" y="309.3" font-size="17" text-anchor="end" >0.16</text><text x="120.6" y="651.8" font-size="17" text-anchor="middle" >0</text><text x="189.3" y="651.8" font-size="17" text-anchor="middle" >2</text><text x="258" y="651.8" font-size="17" text-anchor="middle" >4</text><text x="326.8" y="651.8" font-size="17" text-anchor="middle" >6</text><text x="395.5" y="651.8" font-size="17" text-anchor="middle" >8</text><text x="464.2" y="651.8" font-size="17" text-anchor="middle" >10</text><text x="532.9" y="651.8" font-size="17" text-anchor="middle" >12</text><text x="601.6" y="651.8" font-size="17" text-anchor="middle" >14</text><text x="361.4" y="666.6" font-size="17" text-anchor="middle" >Age (months)</text><text transform="translate(51.6 606.8) rotate(-90)" font-size="17">Cross-sectional Nerve Area (mm<tspan dy="-4.5">2</tspan><tspan dy="4.5">)</tspan></text><circle cx="123.1" cy="314.1" r="8.2" fill="#fff" stroke="#000" stroke-width="1.6"/><path d="M124.7 332.1L134.3 341.6L124.7 351.1L115.1 341.6Z" fill="#c0c0c0" stroke="#000" stroke-width="1.6"/><text x="144" y="321.4" font-size="17.6" text-anchor="start" >DBA2J</text><text x="150.6" y="348" font-size="17" text-anchor="start" >C57</text><g stroke="#000" stroke-width="1.5"><line x1="171.5" y1="535.1" x2="567.9" y2="427.6" stroke-width="1.5"/></g><g fill="#fff" stroke="#000" stroke-width="1.5"><circle cx="172.2" cy="555.3" r="6.7"/><circle cx="172.2" cy="566.2" r="6.7"/><circle cx="172.2" cy="572.7" r="6.7"/><circle cx="172.2" cy="578.3" r="6.7"/><circle cx="223.6" cy="461.3" r="6.7"/><circle cx="223.6" cy="481.2" r="6.7"/><circle cx="223.6" cy="485.7" r="6.7"/><circle cx="223.6" cy="493.4" r="6.7"/><circle cx="223.6" cy="500.2" r="6.7"/><circle cx="223.6" cy="535.5" r="6.7"/><circle cx="223.6" cy="531" r="6.7"/><circle cx="223.6" cy="525.6" r="6.7"/><circle cx="223.6" cy="511.2" r="6.7"/><circle cx="223.6" cy="557.4" r="6.7"/><circle cx="223.6" cy="588" r="6.7"/><circle cx="257.9" cy="507.6" r="6.7"/><circle cx="257.9" cy="527.4" r="6.7"/><circle cx="257.9" cy="541.1" r="6.7"/><circle cx="257.9" cy="550.3" r="6.7"/><circle cx="257.9" cy="558.7" r="6.7"/><circle cx="292.3" cy="440.3" r="6.7"/><circle cx="292.3" cy="457.3" r="6.7"/><circle cx="292.3" cy="465.7" r="6.7"/><circle cx="292.3" cy="472.6" r="6.7"/><circle cx="292.3" cy="482.5" r="6.7"/><circle cx="292.3" cy="487" r="6.7"/><circle cx="292.3" cy="497" r="6.7"/><circle cx="292.3" cy="509.9" r="6.7"/><circle cx="292.3" cy="519.8" r="6.7"/><circle cx="292.3" cy="540.4" r="6.7"/><circle cx="292.3" cy="545.7" r="6.7"/><circle cx="326.6" cy="419" r="6.7"/><circle cx="326.6" cy="483.8" r="6.7"/><circle cx="326.6" cy="492.2" r="6.7"/><circle cx="326.6" cy="499" r="6.7"/><circle cx="326.6" cy="511.2" r="6.7"/><circle cx="326.6" cy="531" r="6.7"/><circle cx="326.6" cy="540.2" r="6.7"/><circle cx="395.4" cy="319" r="6.7"/><circle cx="395.4" cy="377" r="6.7"/><circle cx="395.4" cy="385.3" r="6.7"/><circle cx="395.4" cy="402.1" r="6.7"/><circle cx="395.4" cy="409.7" r="6.7"/><circle cx="395.4" cy="418.9" r="6.7"/><circle cx="395.4" cy="432" r="6.7"/><circle cx="395.4" cy="438.4" r="6.7"/><circle cx="395.4" cy="449" r="6.7"/><circle cx="395.4" cy="459" r="6.7"/><circle cx="395.4" cy="467.3" r="6.7"/><circle cx="395.4" cy="480.3" r="6.7"/><circle cx="395.4" cy="487.9" r="6.7"/><circle cx="395.4" cy="492.5" r="6.7"/><circle cx="395.4" cy="497.8" r="6.7"/><circle cx="395.4" cy="509.2" r="6.7"/><circle cx="395.4" cy="513" r="6.7"/><circle cx="395.4" cy="518.4" r="6.7"/><circle cx="395.4" cy="553.4" r="6.7"/><circle cx="429.8" cy="470.6" r="6.7"/><circle cx="429.8" cy="475.1" r="6.7"/><circle cx="429.8" cy="482" r="6.7"/><circle cx="429.8" cy="484.3" r="6.7"/><circle cx="429.8" cy="495.7" r="6.7"/><circle cx="429.8" cy="499.5" r="6.7"/><circle cx="429.8" cy="504.9" r="6.7"/><circle cx="429.8" cy="514" r="6.7"/><circle cx="429.8" cy="535.5" r="6.7"/><circle cx="429.8" cy="538.5" r="6.7"/><circle cx="429.8" cy="553.2" r="6.7"/><circle cx="429.8" cy="571.8" r="6.7"/><circle cx="464.1" cy="312.9" r="6.7"/><circle cx="464.1" cy="421.3" r="6.7"/><circle cx="464.1" cy="433" r="6.7"/><circle cx="464.1" cy="447.4" r="6.7"/><circle cx="464.1" cy="497.5" r="6.7"/><circle cx="464.1" cy="502.5" r="6.7"/><circle cx="464.1" cy="520.6" r="6.7"/><circle cx="464.1" cy="524.3" r="6.7"/><circle cx="498.4" cy="446.4" r="6.7"/><circle cx="498.4" cy="476.5" r="6.7"/><circle cx="567.1" cy="377.4" r="6.7"/><circle cx="567.1" cy="416" r="6.7"/><circle cx="567.1" cy="445" r="6.7"/><circle cx="567.1" cy="451.8" r="6.7"/><circle cx="567.1" cy="469.2" r="6.7"/><circle cx="567.1" cy="478.3" r="6.7"/></g><g stroke="#000" stroke-width="1.5"><line x1="120" y1="518.9" x2="602.3" y2="526.1" stroke-width="1.5"/></g><g fill="#c0c0c0" stroke="#000" stroke-width="1.5"><path d="M189.2 421.6L195.5 427.9L189.2 434.2L182.9 427.9Z"/><path d="M189.2 445.5L195.5 451.8L189.2 458.1L182.9 451.8Z"/><path d="M189.2 519.5L195.5 525.8L189.2 532.1L182.9 525.8Z"/><path d="M189.2 531.4L195.5 537.7L189.2 544L182.9 537.7Z"/><path d="M189.2 580.9L195.5 587.2L189.2 593.5L182.9 587.2Z"/><path d="M189.2 587.7L195.5 594L189.2 600.3L182.9 594Z"/><path d="M223.6 408L229.9 414.3L223.6 420.6L217.3 414.3Z"/><path d="M223.6 477.3L229.9 483.6L223.6 489.9L217.3 483.6Z"/><path d="M223.6 532.3L229.9 538.6L223.6 544.9L217.3 538.6Z"/><path d="M223.6 541.2L229.9 547.5L223.6 553.8L217.3 547.5Z"/><path d="M223.6 559L229.9 565.3L223.6 571.6L217.3 565.3Z"/><path d="M223.6 561.3L229.9 567.6L223.6 573.9L217.3 567.6Z"/><path d="M223.6 564.7L229.9 571L223.6 577.3L217.3 571Z"/><path d="M326.6 479.5L332.9 485.8L326.6 492.1L320.3 485.8Z"/><path d="M326.6 492.7L332.9 499L326.6 505.3L320.3 499Z"/><path d="M326.6 502.7L332.9 509L326.6 515.3L320.3 509Z"/><path d="M326.6 510.7L332.9 517L326.6 523.3L320.3 517Z"/><path d="M395.4 349.6L401.7 355.9L395.4 362.2L389.1 355.9Z"/><path d="M395.4 377.2L401.7 383.5L395.4 389.8L389.1 383.5Z"/><path d="M395.4 546.4L401.7 552.7L395.4 559L389.1 552.7Z"/><path d="M429.8 530.7L436.1 537L429.8 543.3L423.5 537Z"/><path d="M429.8 542.4L436.1 548.7L429.8 555L423.5 548.7Z"/><path d="M429.8 550.9L436.1 557.2L429.8 563.5L423.5 557.2Z"/><path d="M429.8 557.4L436.1 563.7L429.8 570L423.5 563.7Z"/><path d="M429.8 561.5L436.1 567.8L429.8 574.1L423.5 567.8Z"/><path d="M429.8 563.5L436.1 569.8L429.8 576.1L423.5 569.8Z"/><path d="M429.8 565.5L436.1 571.8L429.8 578.1L423.5 571.8Z"/><path d="M429.8 580.1L436.1 586.4L429.8 592.7L423.5 586.4Z"/><path d="M429.8 589.4L436.1 595.7L429.8 602L423.5 595.7Z"/><path d="M464.1 437.2L470.4 443.5L464.1 449.8L457.8 443.5Z"/><path d="M464.1 481.4L470.4 487.7L464.1 494L457.8 487.7Z"/><path d="M464.1 494.5L470.4 500.8L464.1 507.1L457.8 500.8Z"/><path d="M464.1 506.2L470.4 512.5L464.1 518.8L457.8 512.5Z"/><path d="M464.1 509.4L470.4 515.7L464.1 522L457.8 515.7Z"/><path d="M464.1 512.6L470.4 518.9L464.1 525.2L457.8 518.9Z"/><path d="M464.1 516.2L470.4 522.5L464.1 528.8L457.8 522.5Z"/><path d="M464.1 524.4L470.4 530.7L464.1 537L457.8 530.7Z"/><path d="M464.1 528L470.4 534.3L464.1 540.6L457.8 534.3Z"/><path d="M464.1 532.5L470.4 538.8L464.1 545.1L457.8 538.8Z"/><path d="M464.1 560.1L470.4 566.4L464.1 572.7L457.8 566.4Z"/></g>
<text x="20.3" y="698.2" font-size="19.5" text-anchor="start" >C</text><g stroke="#000" fill="none"><line x1="76.3" y1="692.7" x2="76.3" y2="991.1" stroke-width="1.5"/><line x1="72.1" y1="990.4" x2="76.3" y2="990.4" stroke-width="1.4"/><line x1="74" y1="965.6" x2="76.3" y2="965.6" stroke-width="1.4"/><line x1="72.1" y1="940.9" x2="76.3" y2="940.9" stroke-width="1.4"/><line x1="74" y1="916.1" x2="76.3" y2="916.1" stroke-width="1.4"/><line x1="72.1" y1="891.4" x2="76.3" y2="891.4" stroke-width="1.4"/><line x1="74" y1="866.6" x2="76.3" y2="866.6" stroke-width="1.4"/><line x1="72.1" y1="841.9" x2="76.3" y2="841.9" stroke-width="1.4"/><line x1="74" y1="817.1" x2="76.3" y2="817.1" stroke-width="1.4"/><line x1="72.1" y1="792.4" x2="76.3" y2="792.4" stroke-width="1.4"/><line x1="74" y1="767.6" x2="76.3" y2="767.6" stroke-width="1.4"/><line x1="72.1" y1="742.9" x2="76.3" y2="742.9" stroke-width="1.4"/><line x1="74" y1="718.1" x2="76.3" y2="718.1" stroke-width="1.4"/><line x1="72.1" y1="693.4" x2="76.3" y2="693.4" stroke-width="1.4"/><line x1="82" y1="991.9" x2="305.6" y2="991.9" stroke-width="1.5"/><line x1="82.9" y1="991.9" x2="82.9" y2="995.9" stroke-width="1.4"/><line x1="91.5" y1="991.9" x2="91.5" y2="993.9" stroke-width="1.4"/><line x1="100" y1="991.9" x2="100" y2="995.9" stroke-width="1.4"/><line x1="108.5" y1="991.9" x2="108.5" y2="993.9" stroke-width="1.4"/><line x1="117.1" y1="991.9" x2="117.1" y2="995.9" stroke-width="1.4"/><line x1="125.6" y1="991.9" x2="125.6" y2="993.9" stroke-width="1.4"/><line x1="134.2" y1="991.9" x2="134.2" y2="995.9" stroke-width="1.4"/><line x1="142.7" y1="991.9" x2="142.7" y2="993.9" stroke-width="1.4"/><line x1="151.2" y1="991.9" x2="151.2" y2="995.9" stroke-width="1.4"/><line x1="159.8" y1="991.9" x2="159.8" y2="993.9" stroke-width="1.4"/><line x1="168.3" y1="991.9" x2="168.3" y2="995.9" stroke-width="1.4"/><line x1="176.9" y1="991.9" x2="176.9" y2="993.9" stroke-width="1.4"/><line x1="185.4" y1="991.9" x2="185.4" y2="995.9" stroke-width="1.4"/><line x1="193.9" y1="991.9" x2="193.9" y2="993.9" stroke-width="1.4"/><line x1="202.5" y1="991.9" x2="202.5" y2="995.9" stroke-width="1.4"/><line x1="211" y1="991.9" x2="211" y2="993.9" stroke-width="1.4"/><line x1="219.6" y1="991.9" x2="219.6" y2="995.9" stroke-width="1.4"/><line x1="228.1" y1="991.9" x2="228.1" y2="993.9" stroke-width="1.4"/><line x1="236.6" y1="991.9" x2="236.6" y2="995.9" stroke-width="1.4"/><line x1="245.2" y1="991.9" x2="245.2" y2="993.9" stroke-width="1.4"/><line x1="253.7" y1="991.9" x2="253.7" y2="995.9" stroke-width="1.4"/><line x1="262.3" y1="991.9" x2="262.3" y2="993.9" stroke-width="1.4"/><line x1="270.8" y1="991.9" x2="270.8" y2="995.9" stroke-width="1.4"/><line x1="279.3" y1="991.9" x2="279.3" y2="993.9" stroke-width="1.4"/><line x1="287.9" y1="991.9" x2="287.9" y2="995.9" stroke-width="1.4"/><line x1="296.4" y1="991.9" x2="296.4" y2="993.9" stroke-width="1.4"/><line x1="305" y1="991.9" x2="305" y2="995.9" stroke-width="1.4"/></g><text x="64.3" y="996.6" font-size="17" text-anchor="end" >14</text><text x="64.3" y="947.1" font-size="17" text-anchor="end" >16</text><text x="64.3" y="897.6" font-size="17" text-anchor="end" >18</text><text x="64.3" y="848.1" font-size="17" text-anchor="end" >20</text><text x="64.3" y="798.6" font-size="17" text-anchor="end" >22</text><text x="64.3" y="749.1" font-size="17" text-anchor="end" >24</text><text x="64.3" y="699.6" font-size="17" text-anchor="end" >26</text><text x="100" y="1010.9" font-size="17" text-anchor="middle" >2</text><text x="134.2" y="1010.9" font-size="17" text-anchor="middle" >4</text><text x="168.3" y="1010.9" font-size="17" text-anchor="middle" >6</text><text x="202.5" y="1010.9" font-size="17" text-anchor="middle" >8</text><text x="236.6" y="1010.9" font-size="17" text-anchor="middle" >10</text><text x="270.8" y="1010.9" font-size="17" text-anchor="middle" >12</text><text x="305" y="1010.9" font-size="17" text-anchor="middle" >14</text><text x="194" y="1029.8" font-size="17" text-anchor="middle" >Age (months)</text><text transform="translate(41.6 894.6) rotate(-90)" font-size="17">IOP (mm HG)</text><line stroke="#000" x1="116.3" y1="908.3" x2="288.1" y2="802.8" stroke-width="1.5"/><g fill="#fff" stroke="#000" stroke-width="1.45"><circle cx="117.1" cy="870.9" r="5.2"/><circle cx="117.1" cy="862.8" r="5.2"/><circle cx="134.2" cy="802.3" r="5.2"/><circle cx="151.2" cy="883" r="5.2"/><circle cx="151.2" cy="899.7" r="5.2"/><circle cx="151.2" cy="896.3" r="5.2"/><circle cx="151.2" cy="922" r="5.2"/><circle cx="168.3" cy="861.6" r="5.2"/><circle cx="168.3" cy="874.8" r="5.2"/><circle cx="168.3" cy="892.4" r="5.2"/><circle cx="168.3" cy="898" r="5.2"/><circle cx="168.3" cy="902.2" r="5.2"/><circle cx="168.3" cy="908.2" r="5.2"/><circle cx="168.3" cy="916" r="5.2"/><circle cx="168.3" cy="925.4" r="5.2"/><circle cx="168.3" cy="933.1" r="5.2"/><circle cx="202.5" cy="826.6" r="5.2"/><circle cx="202.5" cy="884.2" r="5.2"/><circle cx="219.6" cy="717.1" r="5.2"/><circle cx="219.6" cy="818.9" r="5.2"/><circle cx="219.6" cy="843.3" r="5.2"/><circle cx="219.6" cy="836.7" r="5.2"/><circle cx="219.6" cy="857.1" r="5.2"/><circle cx="219.6" cy="867.1" r="5.2"/><circle cx="219.6" cy="879" r="5.2"/><circle cx="219.6" cy="875.2" r="5.2"/><circle cx="219.6" cy="889" r="5.2"/><circle cx="236.6" cy="717.1" r="5.2"/><circle cx="236.6" cy="778.4" r="5.2"/><circle cx="253.7" cy="778.4" r="5.2"/><circle cx="253.7" cy="788.1" r="5.2"/><circle cx="253.7" cy="839.5" r="5.2"/><circle cx="287.9" cy="743.8" r="5.2"/><circle cx="287.9" cy="806.5" r="5.2"/><circle cx="287.9" cy="810" r="5.2"/><circle cx="287.9" cy="820.3" r="5.2"/><circle cx="287.9" cy="854.5" r="5.2"/></g>
<text x="319.8" y="700.4" font-size="17.6" text-anchor="start" >D</text><g stroke="#000" fill="none"><line x1="381.4" y1="692.8" x2="381.4" y2="993.1" stroke-width="1.5"/><line x1="377.4" y1="991.5" x2="381.4" y2="991.5" stroke-width="1.4"/><line x1="379" y1="954.2" x2="381.4" y2="954.2" stroke-width="1.4"/><line x1="377.4" y1="917" x2="381.4" y2="917" stroke-width="1.4"/><line x1="379" y1="879.8" x2="381.4" y2="879.8" stroke-width="1.4"/><line x1="377.4" y1="842.5" x2="381.4" y2="842.5" stroke-width="1.4"/><line x1="379" y1="805.2" x2="381.4" y2="805.2" stroke-width="1.4"/><line x1="377.4" y1="768" x2="381.4" y2="768" stroke-width="1.4"/><line x1="379" y1="730.8" x2="381.4" y2="730.8" stroke-width="1.4"/><line x1="377.4" y1="693.5" x2="381.4" y2="693.5" stroke-width="1.4"/><line x1="387.3" y1="993" x2="599" y2="993" stroke-width="1.5"/><line x1="387.9" y1="993" x2="387.9" y2="996.8" stroke-width="1.4"/><line x1="408.9" y1="993" x2="408.9" y2="995.3" stroke-width="1.4"/><line x1="430" y1="993" x2="430" y2="996.8" stroke-width="1.4"/><line x1="451" y1="993" x2="451" y2="995.3" stroke-width="1.4"/><line x1="472.1" y1="993" x2="472.1" y2="996.8" stroke-width="1.4"/><line x1="493.1" y1="993" x2="493.1" y2="995.3" stroke-width="1.4"/><line x1="514.2" y1="993" x2="514.2" y2="996.8" stroke-width="1.4"/><line x1="535.2" y1="993" x2="535.2" y2="995.3" stroke-width="1.4"/><line x1="556.3" y1="993" x2="556.3" y2="996.8" stroke-width="1.4"/><line x1="577.4" y1="993" x2="577.4" y2="995.3" stroke-width="1.4"/><line x1="598.4" y1="993" x2="598.4" y2="996.8" stroke-width="1.4"/></g><text x="378.3" y="997.7" font-size="15.3" text-anchor="end" >0.06</text><text x="378.3" y="923.2" font-size="15.3" text-anchor="end" >0.08</text><text x="378.3" y="848.7" font-size="15.3" text-anchor="end" >0.10</text><text x="378.3" y="774.2" font-size="15.3" text-anchor="end" >0.12</text><text x="378.3" y="699.7" font-size="15.3" text-anchor="end" >0.14</text><text x="388.3" y="1013.5" font-size="15.3" text-anchor="middle" >16</text><text x="430.4" y="1013.5" font-size="15.3" text-anchor="middle" >18</text><text x="472.5" y="1013.5" font-size="15.3" text-anchor="middle" >20</text><text x="514.6" y="1013.5" font-size="15.3" text-anchor="middle" >22</text><text x="556.7" y="1013.5" font-size="15.3" text-anchor="middle" >24</text><text x="598.8" y="1013.5" font-size="15.3" text-anchor="middle" >26</text><text x="493.3" y="1029.9" font-size="15.2" text-anchor="middle" >IOP (mmHG)</text><text transform="translate(346.4 988.9) rotate(-90) scale(1.07 1)" font-size="16">Cross-sectional Nerve Area (mm<tspan dy="-4.2">2</tspan><tspan dy="4.2">)</tspan></text><line stroke="#000" x1="400" y1="857.8" x2="578.9" y2="803.3" stroke-width="1.5"/><g fill="#fff" stroke="#000" stroke-width="1.45"><circle cx="445.5" cy="721.3" r="5.3"/><circle cx="489.9" cy="711.7" r="5.3"/><circle cx="439.1" cy="755.3" r="5.3"/><circle cx="418.8" cy="764" r="5.3"/><circle cx="464.3" cy="764" r="5.3"/><circle cx="555" cy="760.5" r="5.3"/><circle cx="419.7" cy="791.3" r="5.3"/><circle cx="458.2" cy="797.4" r="5.3"/><circle cx="480.9" cy="798.7" r="5.3"/><circle cx="499.3" cy="797.7" r="5.3"/><circle cx="525.5" cy="800.8" r="5.3"/><circle cx="460.8" cy="805.5" r="5.3"/><circle cx="443.8" cy="812.9" r="5.3"/><circle cx="453.1" cy="810.3" r="5.3"/><circle cx="451.5" cy="814.8" r="5.3"/><circle cx="452.2" cy="817.4" r="5.3"/><circle cx="472.9" cy="819.9" r="5.3"/><circle cx="409" cy="823.8" r="5.3"/><circle cx="430" cy="827.9" r="5.3"/><circle cx="442.5" cy="829.6" r="5.3"/><circle cx="456.1" cy="825.7" r="5.3"/><circle cx="460.6" cy="829" r="5.3"/><circle cx="499.9" cy="827.4" r="5.3"/><circle cx="415.5" cy="835.4" r="5.3"/><circle cx="460.8" cy="839.5" r="5.3"/><circle cx="419.3" cy="845.1" r="5.3"/><circle cx="453.5" cy="843.3" r="5.3"/><circle cx="456.1" cy="847.5" r="5.3"/><circle cx="427.7" cy="850.9" r="5.3"/><circle cx="445.1" cy="852.2" r="5.3"/><circle cx="418.7" cy="858" r="5.3"/><circle cx="485.3" cy="859.4" r="5.3"/><circle cx="491.5" cy="860.6" r="5.3"/><circle cx="410.9" cy="863.2" r="5.3"/><circle cx="429" cy="865.1" r="5.3"/><circle cx="423.2" cy="875.4" r="5.3"/><circle cx="425.7" cy="879.3" r="5.3"/><circle cx="505.5" cy="875.2" r="5.3"/><circle cx="485.7" cy="878" r="5.3"/><circle cx="414.8" cy="883.8" r="5.3"/><circle cx="423.8" cy="884.5" r="5.3"/><circle cx="444.3" cy="880" r="5.3"/><circle cx="476.2" cy="884.5" r="5.3"/><circle cx="466.4" cy="885.4" r="5.3"/><circle cx="436.7" cy="891.3" r="5.3"/><circle cx="460" cy="890.3" r="5.3"/><circle cx="577.8" cy="896.5" r="5.3"/><circle cx="409" cy="906.4" r="5.3"/><circle cx="400.6" cy="917" r="5.3"/><circle cx="404.5" cy="917" r="5.3"/><circle cx="444.9" cy="921.5" r="5.3"/><circle cx="439.6" cy="934.1" r="5.3"/><circle cx="476.6" cy="933.8" r="5.3"/><circle cx="470.5" cy="956.7" r="5.3"/></g>
</svg>
</body></html>
